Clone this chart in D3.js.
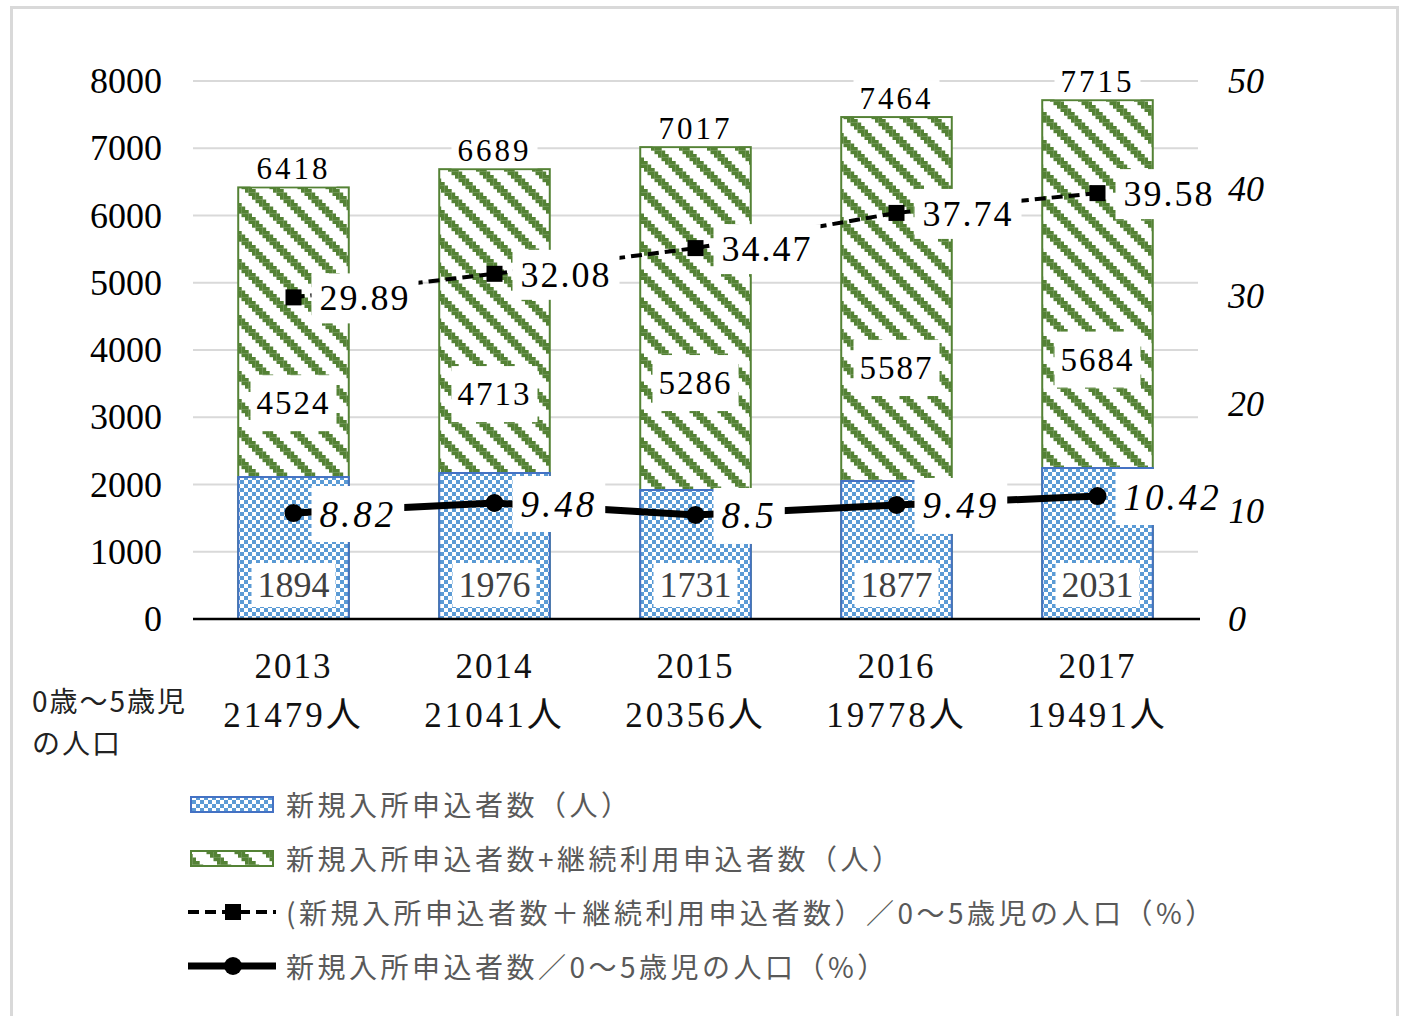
<!DOCTYPE html>
<html><head><meta charset="utf-8">
<script src="https://cdn.jsdelivr.net/npm/d3@7"></script>
<style>
html,body{margin:0;padding:0;background:#fff;}
svg{display:block;}
</style></head>
<body>
<svg id="chart" width="1411" height="1016"></svg>
<script>
// ---- data ----
const years = ["2013", "2014", "2015", "2016", "2017"];
const population = ["21479人", "21041人", "20356人", "19778人", "19491人"];
const totalApplicants = [6418, 6689, 7017, 7464, 7715];          // green bars
const totalInnerLabels = ["4524", "4713", "5286", "5587", "5684"]; // labels shown inside green bars
const newApplicants = [2111, 2171, 1918, 2052, 2245];            // blue bars (heights as drawn)
const newApplicantLabels = ["1894", "1976", "1731", "1877", "2031"];
const ratioTotal = [29.89, 32.08, 34.47, 37.74, 39.58];          // dashed line
const ratioNew = [9.85, 10.78, 9.67, 10.6, 11.43];               // solid line (as drawn)
const ratioNewLabels = ["8.82", "9.48", "8.5", "9.49", "10.42"];
const leftTicks = [0, 1000, 2000, 3000, 4000, 5000, 6000, 7000, 8000];
const rightTicks = [0, 10, 20, 30, 40, 50];
const legendLabels = [
  "新規入所申込者数（人）",
  "新規入所申込者数+継続利用申込者数（人）",
  "(新規入所申込者数＋継続利用申込者数）／0～5歳児の人口（%）",
  "新規入所申込者数／0～5歳児の人口（%）"
];
const popNote = ["0歳～5歳児", "の人口"];

// ---- setup ----
const svg = d3.select("#chart");
const SERIF = "'Liberation Serif','Noto Sans CJK JP',serif";
const SANS = "'Noto Sans CJK JP','Noto Sans',sans-serif";
const GREEN = "#548235", BLUE = "#5b9bd5", BLUE_EDGE = "#4472c4";

svg.append("rect").attr("x", 11.5).attr("y", 7.5).attr("width", 1386).attr("height", 1020)
  .attr("fill", "#fff").attr("stroke", "#d9d9d9").attr("stroke-width", 3);

const defs = svg.append("defs");
// stripe pattern (wide downward diagonal)
const cell = 3.5;
const sp = defs.append("pattern").attr("id", "stripe").attr("patternUnits", "userSpaceOnUse")
  .attr("width", 8 * cell).attr("height", 8 * cell);
sp.append("rect").attr("width", 8 * cell).attr("height", 8 * cell).attr("fill", "#fff");
for (let r = 0; r < 8; r++) for (let k = 0; k < 3; k++) {
  sp.append("rect").attr("x", ((r + k) % 8) * cell).attr("y", r * cell)
    .attr("width", cell + 0.2).attr("height", cell + 0.2).attr("fill", GREEN);
}
// checker pattern
const cp = defs.append("pattern").attr("id", "checker").attr("patternUnits", "userSpaceOnUse")
  .attr("width", 8).attr("height", 8);
cp.append("rect").attr("width", 8).attr("height", 8).attr("fill", "#fff");
cp.append("rect").attr("width", 4).attr("height", 4).attr("fill", BLUE);
cp.append("rect").attr("x", 4).attr("y", 4).attr("width", 4).attr("height", 4).attr("fill", BLUE);

const x0 = 193, x1 = 1198, yTop = 81, yBot = 619;
const x = d3.scaleBand().domain(years).range([x0, x1]).paddingInner(0.45).paddingOuter(0.225);
const yL = d3.scaleLinear().domain([0, 8000]).range([yBot, yTop]);
const yR = d3.scaleLinear().domain([0, 50]).range([yBot, yTop]);
const cx = d => x(d) + x.bandwidth() / 2;

// gridlines
svg.append("g").selectAll("line").data(leftTicks.filter(t => t > 0)).join("line")
  .attr("x1", x0).attr("x2", x1).attr("y1", d => yL(d)).attr("y2", d => yL(d))
  .attr("stroke", "#d9d9d9").attr("stroke-width", 2);

// left axis
const axL = svg.append("g").attr("transform", `translate(${x0},0)`)
  .call(d3.axisLeft(yL).tickValues(leftTicks).tickSize(0).tickPadding(31).tickFormat(d3.format("d")));
axL.select(".domain").remove();
axL.selectAll("text").attr("font-family", SERIF).attr("font-size", 36).attr("fill", "#000");

// right axis
const axR = svg.append("g").attr("transform", `translate(${x1},0)`)
  .call(d3.axisRight(yR).tickValues(rightTicks).tickSize(0).tickPadding(30));
axR.select(".domain").remove();
axR.selectAll("text").attr("font-family", SERIF).attr("font-size", 36).attr("font-style", "italic").attr("fill", "#000");

// bars
svg.append("g").selectAll("rect").data(years).join("rect")
  .attr("x", d => x(d)).attr("width", x.bandwidth())
  .attr("y", (d, i) => yL(totalApplicants[i])).attr("height", (d, i) => yBot - yL(totalApplicants[i]))
  .attr("fill", "url(#stripe)").attr("stroke", GREEN).attr("stroke-width", 2);
svg.append("g").selectAll("rect").data(years).join("rect")
  .attr("x", d => x(d)).attr("width", x.bandwidth())
  .attr("y", (d, i) => yL(newApplicants[i])).attr("height", (d, i) => yBot - yL(newApplicants[i]))
  .attr("fill", "url(#checker)").attr("stroke", BLUE_EDGE).attr("stroke-width", 2);

// x axis baseline
svg.append("line").attr("x1", x0).attr("x2", x1 + 2).attr("y1", yBot).attr("y2", yBot)
  .attr("stroke", "#000").attr("stroke-width", 2.5);

// lines
const lineTot = d3.line().x((d, i) => cx(years[i])).y(d => yR(d));
svg.append("path").datum(ratioTotal).attr("d", lineTot).attr("fill", "none")
  .attr("stroke", "#000").attr("stroke-width", 4).attr("stroke-dasharray", "11,6");
svg.append("g").selectAll("rect").data(ratioTotal).join("rect")
  .attr("x", (d, i) => cx(years[i]) - 8).attr("y", d => yR(d) - 8)
  .attr("width", 16).attr("height", 16).attr("fill", "#000");
svg.append("path").datum(ratioNew).attr("d", lineTot).attr("fill", "none")
  .attr("stroke", "#000").attr("stroke-width", 7);
svg.append("g").selectAll("circle").data(ratioNew).join("circle")
  .attr("cx", (d, i) => cx(years[i])).attr("cy", d => yR(d)).attr("r", 9).attr("fill", "#000");

// label helper with white box
function boxLabel(g, tx, ty, text, opts) {
  const t = g.append("text").attr("x", tx).attr("y", ty).text(text)
    .attr("font-family", SERIF).attr("font-size", opts.size)
    .attr("letter-spacing", opts.ls || 0)
    .attr("font-style", opts.italic ? "italic" : "normal")
    .attr("fill", opts.color || "#000")
    .attr("text-anchor", opts.anchor || "middle").attr("dominant-baseline", "central");
  const bb = t.node().getBBox();
  g.insert("rect", () => t.node())
    .attr("x", bb.x - (opts.px || 6)).attr("width", bb.width + 2 * (opts.px || 6))
    .attr("y", ty - opts.h / 2).attr("height", opts.h).attr("fill", "#fff");
}
const labels = svg.append("g");
years.forEach((yr, i) => {
  boxLabel(labels, cx(yr), yL(totalApplicants[i]) - 19, String(totalApplicants[i]), { size: 31, ls: 3, h: 36 });
  boxLabel(labels, cx(yr), (yL(totalApplicants[i]) + yBot) / 2, totalInnerLabels[i], { size: 33, ls: 2, h: 56 });
  boxLabel(labels, cx(yr), yBot - 34, newApplicantLabels[i], { size: 36, ls: 0, h: 44, color: "#404040" });
  boxLabel(labels, cx(yr) + 26, yR(ratioTotal[i]) + 1, ratioTotal[i].toFixed(2), { size: 36, ls: 2, h: 50, anchor: "start", px: 8 });
  boxLabel(labels, cx(yr) + 26, yR(ratioNew[i]) + 1, ratioNewLabels[i], { size: 37, ls: 3, h: 56, anchor: "start", italic: true, px: 8 });
});

// category labels
const cat = svg.append("g");
years.forEach((yr, i) => {
  cat.append("text").attr("x", cx(yr)).attr("y", 666).attr("dominant-baseline", "central")
    .attr("text-anchor", "middle").attr("font-family", SERIF).attr("font-size", 35)
    .attr("letter-spacing", 2).attr("fill", "#111").text(yr);
  cat.append("text").attr("x", cx(yr)).attr("y", 715).attr("dominant-baseline", "central")
    .attr("text-anchor", "middle").attr("font-family", SERIF).attr("font-size", 35)
    .attr("letter-spacing", 3).attr("fill", "#111").text(population[i]);
});
popNote.forEach((t, i) => {
  svg.append("text").attr("x", 32).attr("y", 700 + i * 42).attr("dominant-baseline", "central")
    .attr("font-family", SANS).attr("font-size", 28).attr("letter-spacing", 2).attr("fill", "#222").text(t);
});

// legend
const lg = svg.append("g");
const ly = [804, 858, 912, 966];
lg.append("rect").attr("x", 191).attr("y", ly[0] - 7).attr("width", 82).attr("height", 15)
  .attr("fill", "url(#checker)").attr("stroke", BLUE_EDGE).attr("stroke-width", 2);
lg.append("rect").attr("x", 191).attr("y", ly[1] - 7).attr("width", 82).attr("height", 15)
  .attr("fill", "url(#stripe)").attr("stroke", GREEN).attr("stroke-width", 2);
lg.append("line").attr("x1", 188).attr("x2", 276).attr("y1", ly[2]).attr("y2", ly[2])
  .attr("stroke", "#000").attr("stroke-width", 4).attr("stroke-dasharray", "11,6");
lg.append("rect").attr("x", 225).attr("y", ly[2] - 8).attr("width", 16).attr("height", 16).attr("fill", "#000");
lg.append("line").attr("x1", 188).attr("x2", 276).attr("y1", ly[3]).attr("y2", ly[3])
  .attr("stroke", "#000").attr("stroke-width", 7);
lg.append("circle").attr("cx", 233).attr("cy", ly[3]).attr("r", 9).attr("fill", "#000");
legendLabels.forEach((t, i) => {
  lg.append("text").attr("x", 286).attr("y", ly[i]).attr("dominant-baseline", "central")
    .attr("font-family", SANS).attr("font-size", 28).attr("letter-spacing", 3.5)
    .attr("fill", "#595959").text(t);
});
</script>
</body></html>
